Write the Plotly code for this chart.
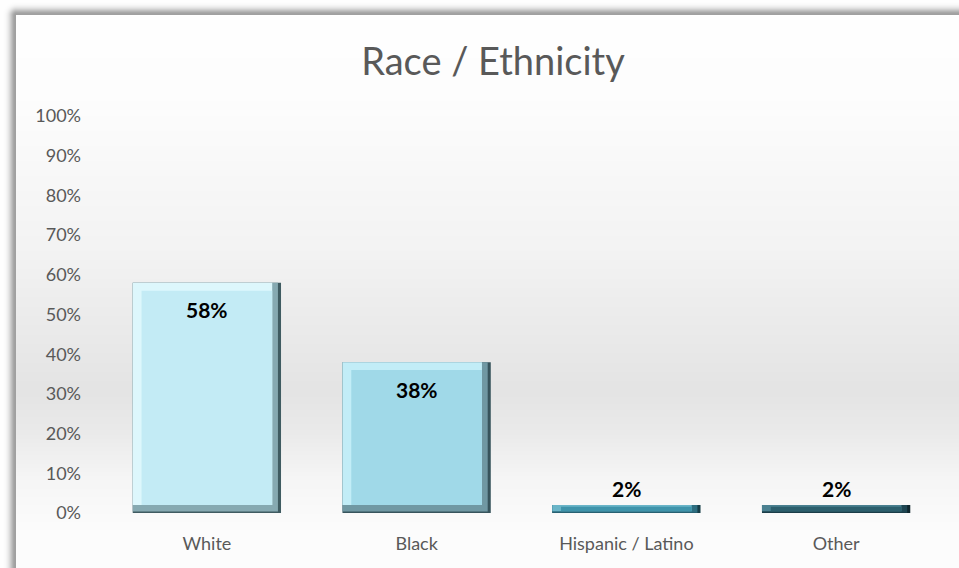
import base64, zlib, struct
import numpy as np
import plotly.graph_objects as go

categories = ["White", "Black", "Hispanic / Latino", "Other"]
values = [58, 38, 2, 2]
tick_vals = [0, 10, 20, 30, 40, 50, 60, 70, 80, 90, 100]
tick_text = ["0%", "10%", "20%", "30%", "40%", "50%", "60%", "70%", "80%", "90%", "100%"]

face_colors = ["#C3EBF5", "#A0D9E8", "#3F94AB", "#2C5F6D"]
light_colors = ["#DDF7FC", "#C2EDF7", "#6AB5C8", "#4A8090"]
mid_colors = ["#86A9B1", "#7098A3", "#2E6E80", "#1F4652"]
edge_colors = ["#3F5B61", "#37545C", "#173E48", "#10272E"]

W, H = 959, 568
ML, MR, MT, MB = 102, 18, 116, 55

# ---- background image (frame shadow + panel gradient) ----
ys = np.arange(H, dtype=float)
xs = np.arange(W, dtype=float)
cy = [15, 100, 250, 390, 430, 480, 530, 568]
cv = [255, 253, 243, 228, 234, 246, 252, 253]
grad = np.interp(ys, cy, cv)
img = np.tile(grad[:, None], (1, W))
PX, PY = 16, 15
dx = np.clip(PX - xs[None, :], 0, None)
dy = np.clip(PY - ys[:, None], 0, None)
d = np.sqrt(dx ** 2 + dy ** 2)
shadow = 255 - 95 * np.exp(-(((d - 1) / 6.0) ** 2))
img = np.where(d > 0, shadow, img)
arr = np.clip(img, 0, 255).astype(np.uint8)
rgb = np.stack([arr, arr, arr], axis=2)
raw = b"".join(b"\x00" + rgb[r].tobytes() for r in range(H))


def chunk(tag, data):
    c = struct.pack(">I", len(data)) + tag + data
    return c + struct.pack(">I", zlib.crc32(tag + data) & 0xFFFFFFFF)


png = b"\x89PNG\r\n\x1a\n" + chunk(b"IHDR", struct.pack(">IIBBBBB", W, H, 8, 2, 0, 0, 0)) \
    + chunk(b"IDAT", zlib.compress(raw, 9)) + chunk(b"IEND", b"")
src = "data:image/png;base64," + base64.b64encode(png).decode()

pw = W - ML - MR
ph = H - MT - MB

# ---- bars with bevel layers ----
w = 0.707
bx = 0.042
by = [min(2.0, v * 0.22) for v in values]

fig = go.Figure()
# dark outer edge
fig.add_trace(go.Bar(x=categories, y=values, base=[0] * 4, width=w, offset=-w / 2,
                     marker=dict(color=edge_colors, line=dict(width=0)), hoverinfo="skip"))
# mid-tone bevel (right/bottom)
fig.add_trace(go.Bar(x=categories, y=[v - b * 0.2 for v, b in zip(values, by)],
                     base=[b * 0.2 for b in by], width=w - bx * 0.35, offset=-w / 2,
                     marker=dict(color=mid_colors, line=dict(width=0)), hoverinfo="skip"))
# light bevel (top/left)
fig.add_trace(go.Bar(x=categories, y=[v - b for v, b in zip(values, by)], base=by,
                     width=w - bx, offset=-w / 2,
                     marker=dict(color=light_colors, line=dict(width=0)), hoverinfo="skip"))
# face
fig.add_trace(go.Bar(x=categories, y=[v - 2 * b for v, b in zip(values, by)], base=by,
                     width=w - 2 * bx, offset=-w / 2 + bx,
                     marker=dict(color=face_colors, line=dict(width=0)), hoverinfo="skip"))

for c, v in zip(categories, values):
    inside = v > 10
    fig.add_annotation(x=c, y=v, text=f"<b>{v}%</b>", showarrow=False,
                       yshift=-27 if inside else 17,
                       font=dict(family="Lato", size=21, color="#000000"))

fig.update_layout(
    width=W, height=H,
    margin=dict(l=ML, r=MR, t=MT, b=MB, pad=0),
    paper_bgcolor="white", plot_bgcolor="rgba(0,0,0,0)",
    barmode="overlay", showlegend=False,
    title=dict(text="Race / Ethnicity", x=493 / W, xanchor="center", y=1 - 62 / H, yanchor="middle",
               font=dict(family="Lato", size=38, color="#595959")),
    font=dict(family="Lato", color="#595959"),
    xaxis=dict(showgrid=False, showline=False, zeroline=False, ticks="",
               tickfont=dict(size=18, color="#595959"), ticklabelstandoff=18,
               range=[-0.5, 3.5]),
    yaxis=dict(range=[0, 100], tickvals=tick_vals, ticktext=tick_text, showgrid=False,
               showline=False, zeroline=False, ticks="", ticklabelstandoff=20,
               tickfont=dict(size=18, color="#595959")),
    images=[dict(source=src, xref="paper", yref="paper", x=-ML / pw, y=1 + MT / ph,
                 sizex=W / pw, sizey=H / ph, xanchor="left", yanchor="top",
                 sizing="stretch", layer="below")],
)

fig.write_html("out.html")
